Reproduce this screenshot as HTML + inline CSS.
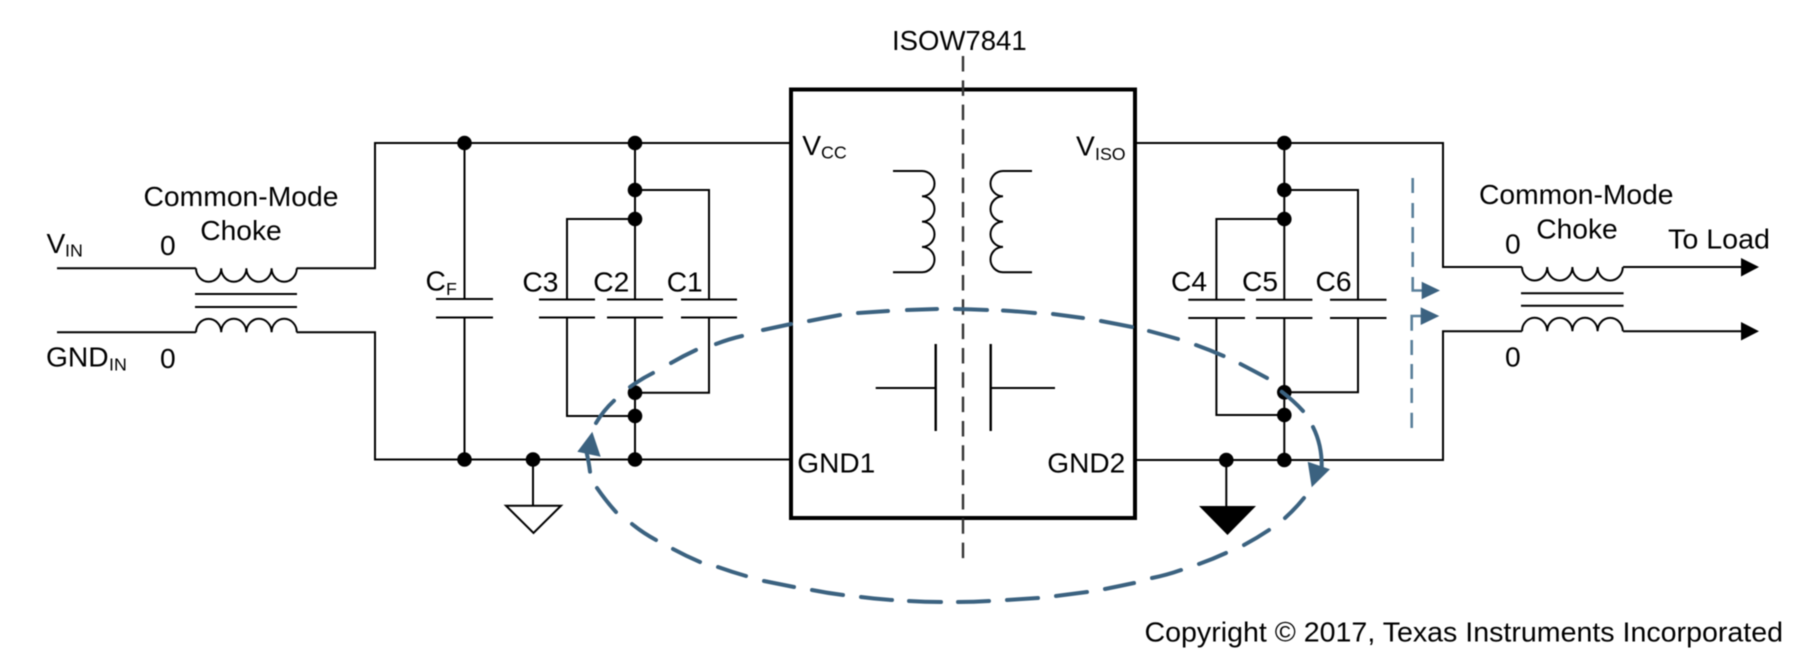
<!DOCTYPE html>
<html><head><meta charset="utf-8"><style>html,body{margin:0;padding:0;background:#fff;width:1820px;height:668px;overflow:hidden}svg{display:block;filter:blur(.4px)}text{font-family:"Liberation Sans",sans-serif;fill:#000}.t{font-size:28.2px}.s{font-size:17.8px}</style></head><body>
<svg width="1820" height="668" viewBox="0 0 1820 668" xmlns="http://www.w3.org/2000/svg">
<g fill="none" stroke="#000" stroke-width="2">
<!-- left wires -->
<path d="M57 268.3H196M296.6 268.3H375V143H791"/>
<path d="M57 332.3H196M296.6 332.3H375V459.5H791"/>
<path d="M196 268.3a12.6 13.5 0 0 0 25.2 0a12.6 13.5 0 0 0 25.2 0a12.6 13.5 0 0 0 25.2 0a12.6 13.5 0 0 0 25.2 0"/>
<path d="M196 332.3a12.6 13.5 0 0 1 25.2 0a12.6 13.5 0 0 1 25.2 0a12.6 13.5 0 0 1 25.2 0a12.6 13.5 0 0 1 25.2 0"/>
<path d="M195 294H297M195 307H297"/>
<!-- CF -->
<path d="M464.5 143V299M464.5 317.5V459.5M436 299H493M436 317.5H493"/>
<!-- C1-3 -->
<path d="M635 143V299M635 317.5V459.5"/>
<path d="M635 219H567V299M635 190H709V299"/>
<path d="M567 317.5V416H635M709 317.5V392.7H635"/>
<path d="M539 299.5H595M607 299.5H663M681 299.5H737M539 317.5H595M607 317.5H663M681 317.5H737"/>
<!-- gnd left -->
<path d="M533 459.5V505.7"/>
<path d="M506 505.7H561L533.5 533Z"/>
<!-- right wires -->
<path d="M1135 143H1443V267H1522M1623 267H1741"/>
<path d="M1135 460H1443V331.3H1522M1623 331.3H1741"/>
<path d="M1522 267a12.6 13.5 0 0 0 25.2 0a12.6 13.5 0 0 0 25.2 0a12.6 13.5 0 0 0 25.2 0a12.6 13.5 0 0 0 25.2 0"/>
<path d="M1522 331.3a12.6 13.5 0 0 1 25.2 0a12.6 13.5 0 0 1 25.2 0a12.6 13.5 0 0 1 25.2 0a12.6 13.5 0 0 1 25.2 0"/>
<path d="M1521 293.3H1623.6M1521 305.7H1623.6"/>
<path d="M1284.3 143V299.7M1284.3 318V460"/>
<path d="M1284.3 219H1216.4V299.7M1284.3 190H1358V299.7"/>
<path d="M1216.4 318V415H1284.3M1358 318V392.3H1284.3"/>
<path d="M1188.3 299.7H1245M1256 299.7H1312.4M1330 299.7H1386.5M1188.3 318H1245M1256 318H1312.4M1330 318H1386.5"/>
<path d="M1226.3 460V506"/>
<!-- transformer -->
<path d="M893 171H922a12.5 12.65 0 0 1 0 25.3a12.5 12.65 0 0 1 0 25.3a12.5 12.65 0 0 1 0 25.3a12.5 12.65 0 0 1 0 25.3H893"/>
<path d="M1032 171H1003a12.5 12.65 0 0 0 0 25.3a12.5 12.65 0 0 0 0 25.3a12.5 12.65 0 0 0 0 25.3a12.5 12.65 0 0 0 0 25.3H1032"/>
<!-- isolation cap -->
<path d="M875.7 388H935.7M990.7 388H1055"/>
<path d="M935.7 344V431M990.7 344V431" stroke-width="2.4"/>
</g>
<rect x="791" y="89.5" width="344" height="428.5" fill="none" stroke="#000" stroke-width="4"/>
<path d="M963 56V560" fill="none" stroke="#333" stroke-width="2.4" stroke-dasharray="15.5 8.83"/>
<g fill="#000">
<path d="M1199 506H1256L1227.5 535Z"/>
<path d="M1741 258L1759 267L1741 276.5Z"/>
<path d="M1741 322L1759 331.3L1741 340.5Z"/>
<circle cx="464.5" cy="143" r="7.3"/><circle cx="635" cy="143" r="7.3"/><circle cx="635" cy="190" r="7.3"/><circle cx="635" cy="219" r="7.3"/>
<circle cx="635" cy="392.7" r="7.3"/><circle cx="635" cy="416" r="7.3"/><circle cx="464.5" cy="459.5" r="7.3"/><circle cx="533" cy="459.5" r="7.3"/><circle cx="635" cy="459.5" r="7.3"/>
<circle cx="1284.3" cy="143" r="7.3"/><circle cx="1284.3" cy="190" r="7.3"/><circle cx="1284.3" cy="219" r="7.3"/><circle cx="1284.3" cy="392.3" r="7.3"/><circle cx="1284.3" cy="415" r="7.3"/><circle cx="1226.3" cy="460" r="7.3"/><circle cx="1284.3" cy="460" r="7.3"/>
</g>
<!-- blue vertical dashed -->
<g fill="none" stroke="#5a7f9a" stroke-width="2.6">
<path d="M1412.7 178V193M1412.7 203V218M1412.7 227V243M1412.7 252V267"/>
<path d="M1412.7 277V290.5H1423"/>
<path d="M1423 316H1411.7V330.7"/>
<path d="M1411.7 340V355M1411.7 364V379M1411.7 388V403M1411.7 412.7V428"/>
</g>
<g fill="#3b6280">
<path d="M1421.7 281.7L1440 290.5L1421.7 299.3Z"/>
<path d="M1420.7 307.3L1439.3 316L1420.7 325Z"/>
<path d="M592.3 431.7L600.7 456.7L577.3 451.7Z"/>
<path d="M1311.7 487.3L1330 469.3L1307.7 461.7Z"/>
</g>
<!-- big dashed loop -->
<g fill="none" stroke="#3b6280" stroke-width="4" stroke-linecap="round">
<path d="M590 471.7Q589 463 586.7 453"/>
<path d="M596 423Q603 411 614 400.7"/>
<path d="M630 387Q641 379 653 373"/>
<path d="M671 363Q683 356 696 350"/>
<path d="M716 344Q729 339 742 336"/>
<path d="M763 330Q777 327 791 324"/>
<path d="M809 321Q824 318 840 315"/>
<path d="M858 313Q873 312 888 311"/>
<path d="M907 310Q922 309.5 937 309"/>
<path d="M955 309Q971 309.3 987 310"/>
<path d="M1003 310.5Q1019 311.5 1035 313"/>
<path d="M1053 314Q1068 316 1083 318"/>
<path d="M1101 321Q1117 324 1132 327"/>
<path d="M1149 331Q1164 335 1178 339"/>
<path d="M1196 345Q1210 350 1223.6 356"/>
<path d="M1240.5 364Q1254 371 1267 378"/>
<path d="M1281.7 391.7Q1294 401 1303 411"/>
<path d="M1313 427Q1322 445 1321.7 466.7"/>
<path d="M1304 498Q1295 509 1285 518"/>
<path d="M1269 530Q1257 538 1244 545"/>
<path d="M1226 553Q1213 559 1199 564"/>
<path d="M1181 570Q1167 575 1152 578"/>
<path d="M1134 583Q1120 586 1105 589"/>
<path d="M1087 592Q1072 594 1056 596"/>
<path d="M1038 598Q1023 599 1007 600"/>
<path d="M989 601Q974 602 958 602"/>
<path d="M941 602Q925 602 909 601"/>
<path d="M892 600Q876 599 861 597"/>
<path d="M843 595Q827 593 812 590"/>
<path d="M794 587Q779 584 764 581"/>
<path d="M746 576Q732 572 718 567"/>
<path d="M700 562Q686 556 673 549"/>
<path d="M656 540Q643 533 632 524"/>
<path d="M616 512Q606 501 597 488"/>
</g>
<!-- text -->
<text class="t" x="892" y="50" textLength="134.7" lengthAdjust="spacingAndGlyphs">ISOW7841</text>
<text class="t" x="143.5" y="206" textLength="195" lengthAdjust="spacingAndGlyphs">Common-Mode</text>
<text class="t" x="241" y="240" text-anchor="middle">Choke</text>
<text class="t" x="1479" y="204" textLength="194.5" lengthAdjust="spacingAndGlyphs">Common-Mode</text>
<text class="t" x="1577" y="238.3" text-anchor="middle">Choke</text>
<text class="t" x="46.5" y="253">V</text><text class="s" x="65" y="256.7">IN</text>
<text class="t" x="160" y="255">0</text>
<text class="t" x="46" y="366.7">GND</text><text class="s" x="109" y="370.7">IN</text>
<text class="t" x="160" y="368">0</text>
<text class="t" x="425.5" y="290.7">C</text><text class="s" x="446" y="295">F</text>
<text class="t" x="522.4" y="291.7">C3</text>
<text class="t" x="593.3" y="291.7">C2</text>
<text class="t" x="666.7" y="291.7">C1</text>
<text class="t" x="1171" y="291">C4</text>
<text class="t" x="1242" y="291">C5</text>
<text class="t" x="1315.5" y="291">C6</text>
<text class="t" x="802.3" y="155">V</text><text class="s" x="821" y="158.3">CC</text>
<text class="t" x="1076" y="155.7">V</text><text class="s" x="1095" y="160">ISO</text>
<text class="t" x="797.3" y="472.3" textLength="78" lengthAdjust="spacingAndGlyphs">GND1</text>
<text class="t" x="1047.3" y="472.3" textLength="78" lengthAdjust="spacingAndGlyphs">GND2</text>
<text class="t" x="1505" y="253.3">0</text>
<text class="t" x="1505" y="366.7">0</text>
<text class="t" x="1668" y="248.3" textLength="102" lengthAdjust="spacingAndGlyphs">To Load</text>
<text class="t" x="1144.5" y="641.7" textLength="638.5" lengthAdjust="spacingAndGlyphs">Copyright © 2017, Texas Instruments Incorporated</text>
</svg>
</body></html>
